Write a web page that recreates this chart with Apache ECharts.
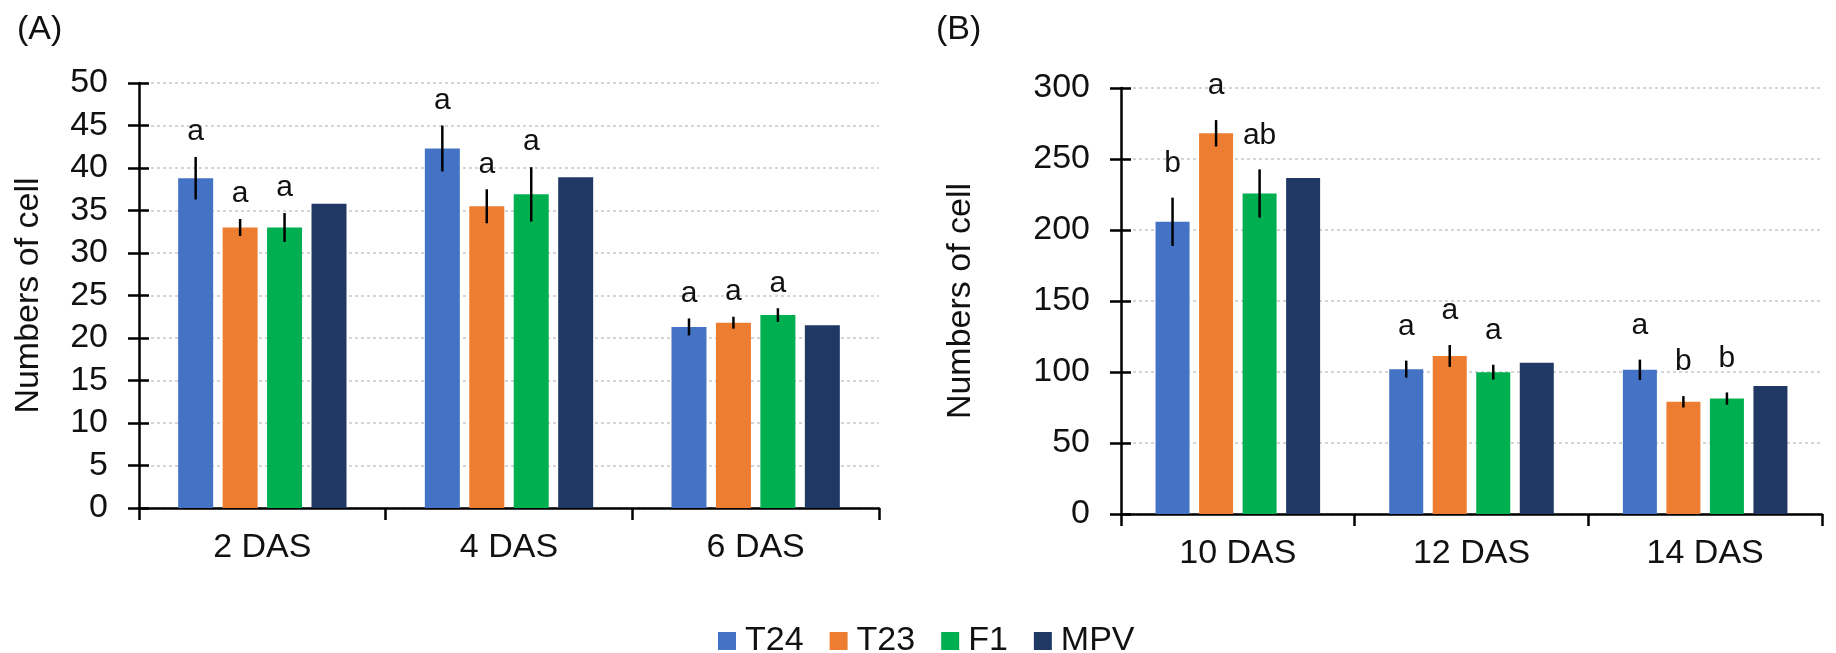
<!DOCTYPE html>
<html><head><meta charset="utf-8">
<script src="https://cdn.jsdelivr.net/npm/echarts@6/dist/echarts.min.js"></script>
<style>html,body{margin:0;padding:0;background:#fff}#c{width:1836px;height:653px}</style>
</head><body><div id="c"></div>
<script>
const seriesNames = ['T24', 'T23', 'F1', 'MPV'];
const colors = ['#4472C4', '#ED7D31', '#00B050', '#203864'];

// Panel A
const categoriesA = ['2 DAS', '4 DAS', '6 DAS'];
const A_T24 = [38.8, 42.3, 21.3];
const A_T23 = [33.0, 35.5, 21.8];
const A_F1  = [33.0, 36.9, 22.7];
const A_MPV = [35.8, 38.9, 21.5];
const A_T24_err = [2.5, 2.7, 1.0];
const A_T23_err = [1.0, 2.0, 0.7];
const A_F1_err  = [1.7, 3.2, 0.8];
const A_T24_sig = ['a', 'a', 'a'];
const A_T23_sig = ['a', 'a', 'a'];
const A_F1_sig  = ['a', 'a', 'a'];
const ticksA = { min: 0, max: 50, interval: 5 };

// Panel B
const categoriesB = ['10 DAS', '12 DAS', '14 DAS'];
const B_T24 = [205.8, 102.0, 101.5];
const B_T23 = [268.1, 111.3, 79.0];
const B_F1  = [225.7, 99.9, 81.3];
const B_MPV = [236.7, 106.6, 90.2];
const B_T24_err = [17.0, 6.0, 7.2];
const B_T23_err = [9.3, 7.7, 4.0];
const B_F1_err  = [17.0, 5.2, 4.3];
const B_T24_sig = ['b', 'a', 'a'];
const B_T23_sig = ['a', 'a', 'b'];
const B_F1_sig  = ['ab', 'a', 'b'];
const ticksB = { min: 0, max: 300, interval: 50 };

const FONT = '"Liberation Sans", Arial, sans-serif';
const TXT = '#111';
const FS = 34;

function panel(p) {
  const series = [];
  p.values.forEach((vals, i) => {
    series.push({
      name: seriesNames[i], type: 'bar', xAxisIndex: p.gridIndex, yAxisIndex: p.gridIndex * 2,
      data: vals, barWidth: p.barW, barGap: (p.gapRatio * 100) + '%',
      itemStyle: { color: colors[i] }, emphasis: { disabled: true }
    });
  });
  p.errs.forEach((errs, i) => {
    const sigs = p.sigs[i];
    const vals = p.values[i];
    series.push({
      name: seriesNames[i], type: 'custom', xAxisIndex: p.gridIndex, yAxisIndex: p.gridIndex * 2,
      data: vals.map((v, k) => [k, v, errs[k]]), z: 5, silent: true,
      renderItem: function (params, api) {
        const x = api.value(0), v = api.value(1), e = api.value(2);
        const base = api.coord([x, v]);
        const cx = base[0] + (i - 1.5) * (p.barW * (1 + p.gapRatio));
        const top = api.coord([x, v + e])[1];
        const bot = api.coord([x, v - e])[1];
        return {
          type: 'group', children: [
            { type: 'line', shape: { x1: cx, y1: top, x2: cx, y2: bot }, style: { stroke: '#000', lineWidth: 2.5 } },
            { type: 'text', style: { text: sigs[params.dataIndex], x: cx, y: top - p.labelGap, align: 'center', verticalAlign: 'bottom', fontSize: 30, fontFamily: FONT, fill: TXT } }
          ]
        };
      }
    });
  });
  return series;
}

const chart = echarts.init(document.getElementById('c'));
const commonYAxis = (t, margin, nameGap, gridIndex) => ([
  {
    type: 'value', gridIndex: gridIndex, position: 'left', min: t.min, max: t.max, interval: t.interval,
    name: 'Numbers of cell', nameLocation: 'middle', nameGap: nameGap,
    nameTextStyle: { fontSize: FS, fontFamily: FONT, color: TXT },
    axisLine: { show: true, lineStyle: { color: '#000', width: 2.5 } },
    axisTick: { show: true, length: 11, lineStyle: { color: '#000', width: 2.5 } },
    axisLabel: { fontSize: FS, fontFamily: FONT, color: TXT, margin: margin },
    splitLine: { show: true, lineStyle: { color: '#c8c8c8', type: [3, 3], width: 1.5 } }
  },
  {
    type: 'value', gridIndex: gridIndex, position: 'left', offset: 0, min: t.min, max: t.max, interval: t.interval,
    axisLine: { show: false }, axisLabel: { show: false }, splitLine: { show: false },
    axisTick: { show: true, inside: true, length: 10, lineStyle: { color: '#000', width: 2.5 } }
  }
]);
const xAxisCfg = (cats, gridIndex) => ({
  type: 'category', gridIndex: gridIndex, data: cats,
  axisLine: { show: true, lineStyle: { color: '#000', width: 2.5 } },
  axisTick: { show: true, length: 12, lineStyle: { color: '#000', width: 2.5 } },
  axisLabel: { fontSize: FS, fontFamily: FONT, color: TXT, margin: 23 }
});

const option = {
  animation: false,
  backgroundColor: '#fff',
  title: [
    { text: '(A)', left: 12, top: 8, textStyle: { fontSize: FS, fontWeight: 'normal', fontFamily: FONT, color: TXT } },
    { text: '(B)', left: 931, top: 8, textStyle: { fontSize: FS, fontWeight: 'normal', fontFamily: FONT, color: TXT } }
  ],
  legend: {
    data: seriesNames, left: 713, top: 619, icon: 'rect', itemWidth: 18, itemHeight: 18, itemGap: 26,
    textStyle: { fontSize: FS, fontFamily: FONT, color: TXT, padding: [0, 0, 0, 4] },
    selectedMode: false
  },
  grid: [
    { left: 139, top: 83, width: 740, height: 425 },
    { left: 1121, top: 88, width: 701, height: 426 }
  ],
  xAxis: [xAxisCfg(categoriesA, 0), xAxisCfg(categoriesB, 1)],
  yAxis: [].concat(commonYAxis(ticksA, 31, 93, 0), commonYAxis(ticksB, 31, 143, 1)),
  series: [].concat(
    panel({ gridIndex: 0, values: [A_T24, A_T23, A_F1, A_MPV], errs: [A_T24_err, A_T23_err, A_F1_err], sigs: [A_T24_sig, A_T23_sig, A_F1_sig], barW: 35, gapRatio: 0.27, labelGap: 10 }),
    panel({ gridIndex: 1, values: [B_T24, B_T23, B_F1, B_MPV], errs: [B_T24_err, B_T23_err, B_F1_err], sigs: [B_T24_sig, B_T23_sig, B_F1_sig], barW: 34, gapRatio: 0.28, labelGap: 19 })
  )
};
chart.setOption(option);
</script></body></html>
